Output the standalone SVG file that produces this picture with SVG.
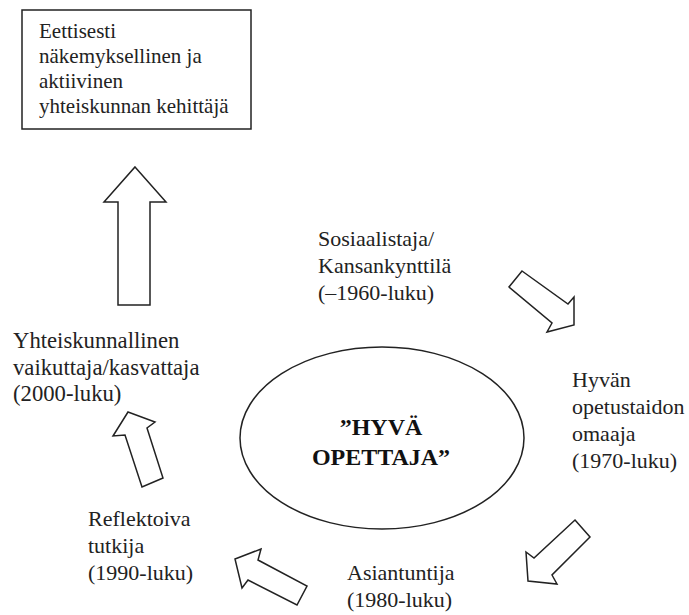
<svg xmlns="http://www.w3.org/2000/svg" width="689" height="615" viewBox="0 0 689 615">
<style>
  .t { font-family: 'Liberation Serif', 'Times New Roman', serif; font-size: 22px; fill: #222; }
  .wide { font-size: 22.7px; }
  .box-t { font-family: 'Liberation Serif', 'Times New Roman', serif; font-size: 21px; fill: #222; }
  .title { font-family: 'Liberation Serif', 'Times New Roman', serif; font-size: 24px; font-weight: bold; fill: #111; text-anchor: middle; }
  .shape { fill: #fff; stroke: #222; stroke-width: 1.5; stroke-linejoin: miter; }
</style>
<rect width="689" height="615" fill="#fff"/>

<g id="goal">
  <rect class="shape" x="22" y="10" width="229" height="119"/>
  <text class="box-t" x="39" y="38">Eettisesti</text>
  <text class="box-t" x="39" y="63">näkemyksellinen ja</text>
  <text class="box-t" x="39" y="88">aktiivinen</text>
  <text class="box-t" x="39" y="113">yhteiskunnan kehittäjä</text>
</g>

<g id="center">
  <ellipse class="shape" cx="382" cy="438" rx="142" ry="91"/>
  <text class="title" x="381" y="435">”HYVÄ</text>
  <text class="title" x="381" y="465">OPETTAJA”</text>
</g>

<g id="sosiaalistaja">
  <text class="t" x="318" y="246">Sosiaalistaja/</text>
  <text class="t" x="318" y="273">Kansankynttilä</text>
  <text class="t" x="318" y="300">(–1960-luku)</text>
</g>

<g id="hyvan">
  <text class="t" x="572" y="387">Hyvän</text>
  <text class="t" x="572" y="414">opetustaidon</text>
  <text class="t" x="572" y="441">omaaja</text>
  <text class="t" x="572" y="468">(1970-luku)</text>
</g>

<g id="asiantuntija">
  <text class="t" x="347" y="580">Asiantuntija</text>
  <text class="t" x="347" y="607">(1980-luku)</text>
</g>

<g id="reflektoiva">
  <text class="t" x="88" y="526">Reflektoiva</text>
  <text class="t" x="88" y="553">tutkija</text>
  <text class="t" x="88" y="580">(1990-luku)</text>
</g>

<g id="yhteiskunnallinen">
  <text class="t wide" x="13" y="348">Yhteiskunnallinen</text>
  <text class="t wide" x="13" y="375">vaikuttaja/kasvattaja</text>
  <text class="t wide" x="13" y="401">(2000-luku)</text>
</g>

<g id="connectors">
  <polygon class="shape" points="135,167 166,202 150,202 150,305 118,305 118,202 104,202"/>
  <polygon class="shape" points="522,271 568,304 574,297 574,325 547,332 552,323 509,287"/>
  <polygon class="shape" points="575,520 590,537 552,575 557,584 528,581 526,552 534,558"/>
  <polygon class="shape" points="261,549 258,560 307,586 297,605 248,580 242,588 235,559"/>
  <polygon class="shape" points="128,412 155,422 147,428 163,478 142,487 125,435 113,436"/>
</g>
</svg>
